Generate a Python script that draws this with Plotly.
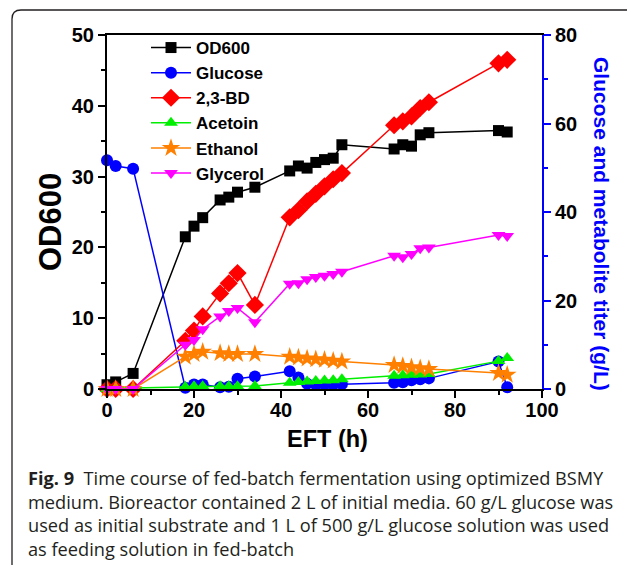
import plotly.graph_objects as go

# ---------------- data ----------------
time_h = [0, 2, 6, 18, 20, 22, 26, 28, 30, 34, 42, 44, 46, 48, 50, 52, 54, 66, 68, 70, 72, 74, 90, 92]
od600 = [0.6, 1.0, 2.2, 21.5, 23.0, 24.2, 26.7, 27.1, 27.8, 28.5, 30.8, 31.5, 31.2, 32.0, 32.4, 32.6, 34.5, 33.9, 34.5, 34.3, 35.9, 36.2, 36.5, 36.3]
glucose = [51.7, 50.4, 49.8, 0.3, 1.0, 1.0, 0.4, 0.5, 2.3, 2.8, 4.0, 2.6, 1.2, 1.0, 1.0, 1.0, 1.1, 1.4, 1.5, 2.0, 2.2, 2.4, 6.2, 0.4]
bd23 = [0, 0, 0, 10.9, 13.2, 16.4, 21.6, 23.9, 26.2, 19.0, 38.8, 40.4, 42.4, 44.1, 45.8, 47.4, 48.8, 59.6, 60.5, 61.6, 63.5, 64.8, 73.6, 74.4]
acetoin = [0, 0.2, 0.2, 0.5, 0.6, 0.6, 0.6, 0.6, 0.6, 0.7, 1.4, 1.6, 1.7, 1.8, 1.9, 2.0, 2.2, 3.0, 3.1, 3.2, 3.3, 3.4, 6.3, 7.0]
ethanol = [0, 0, 0, 7.3, 7.9, 8.4, 8.1, 7.9, 7.9, 7.9, 7.3, 7.1, 6.9, 6.7, 6.6, 6.4, 6.2, 5.4, 5.2, 4.9, 4.7, 4.5, 3.6, 3.2]
glycerol = [0, 0, 0, 10.0, 11.1, 13.5, 16.4, 17.6, 18.3, 15.1, 23.8, 23.9, 24.8, 25.3, 25.6, 26.0, 26.5, 30.1, 29.8, 30.5, 31.8, 32.0, 34.8, 34.6]

x_ticks = [0, 20, 40, 60, 80, 100]
y1_ticks = [0, 10, 20, 30, 40, 50]
y2_ticks = [0, 20, 40, 60, 80]

caption_lines = [
    "<b>Fig. 9</b>  Time course of fed-batch fermentation using optimized BSMY",
    "medium. Bioreactor contained 2 L of initial media. 60 g/L glucose was",
    "used as initial substrate and 1 L of 500 g/L glucose solution was used",
    "as feeding solution in fed-batch",
]

# ---------------- layout geometry ----------------
W, H = 627, 565
L, R, T, B = 107, 85, 35, 176
PW, PH = W - L - R, H - T - B


def px(x):
    return (x - L) / PW


def py(y):
    return (H - B - y) / PH


series = [
    ("OD600", od600, "#000000", "square", 11, "y"),
    ("Glucose", glucose, "#0000ff", "circle", 12, "y2"),
    ("2,3-BD", bd23, "#ff0000", "diamond", 14, "y2"),
    ("Acetoin", acetoin, "#00ee00", "triangle-up", 12, "y2"),
    ("Ethanol", ethanol, "#ff8000", "star", 14, "y2"),
    ("Glycerol", glycerol, "#ff00ff", "triangle-down", 12, "y2"),
]

fig = go.Figure()
for name, vals, col, sym, size, yax in series:
    fig.add_trace(go.Scatter(
        x=time_h, y=vals, name=name, yaxis=yax, mode="lines+markers",
        line=dict(color=col, width=1.5),
        marker=dict(symbol=sym, size=size, color=col, line=dict(width=0)),
        cliponaxis=False,
    ))

FONT = "Liberation Sans, Arial"
tickfont = dict(family=FONT, size=20, color="black", weight="bold")

fig.update_layout(
    width=W, height=H,
    margin=dict(l=L, r=R, t=T, b=B, autoexpand=False),
    paper_bgcolor="white", plot_bgcolor="white",
    showlegend=True,
    legend=dict(
        x=px(146), y=py(30), xanchor="left", yanchor="top",
        bgcolor="rgba(0,0,0,0)",
        font=dict(family=FONT, size=17, color="black", weight="bold"),
        tracegroupgap=0, itemwidth=40,
    ),
    xaxis=dict(
        range=[0, 100], tickvals=x_ticks, ticks="outside", ticklen=7, tickwidth=2,
        tickcolor="black", showline=True, linecolor="black", linewidth=2, mirror=True,
        showgrid=False, zeroline=False, tickfont=tickfont, ticklabelstandoff=-5,
        minor=dict(ticks="outside", ticklen=4, tickwidth=2, dtick=10, tickcolor="black", showgrid=False),
    ),
    yaxis=dict(
        range=[0, 50], tickvals=y1_ticks, ticks="outside", ticklen=7, tickwidth=2,
        tickcolor="black", showline=True, linecolor="black", linewidth=2,
        showgrid=False, zeroline=False, tickfont=tickfont,
        minor=dict(ticks="outside", ticklen=4, tickwidth=2, dtick=5, tickcolor="black", showgrid=False),
    ),
    yaxis2=dict(
        range=[0, 80], tickvals=y2_ticks, overlaying="y", side="right",
        ticks="outside", ticklen=7, tickwidth=2, tickcolor="#0000ff",
        showline=True, linecolor="#0000ff", linewidth=2,
        showgrid=False, zeroline=False, tickfont=tickfont,
        minor=dict(ticks="outside", ticklen=4, tickwidth=2, dtick=10, tickcolor="#0000ff", showgrid=False),
    ),
)

ann = []
ann.append(dict(text="OD600", x=px(50), y=py(222), xref="paper", yref="paper",
                xanchor="center", yanchor="middle", showarrow=False, textangle=-90,
                font=dict(family=FONT, size=31, color="black", weight="bold")))
ann.append(dict(text="EFT (h)", x=px(327), y=py(439), xref="paper", yref="paper",
                xanchor="center", yanchor="middle", showarrow=False,
                font=dict(family=FONT, size=23.5, color="black", weight="bold")))
ann.append(dict(text="Glucose and metabolite titer (g/L)", x=px(602), y=py(224), xref="paper", yref="paper",
                xanchor="center", yanchor="middle", showarrow=False, textangle=90,
                font=dict(family=FONT, size=21, color="#0000ff", weight="bold")))
ann.append(dict(text="<br>".join(caption_lines), x=px(27), y=py(465), xref="paper", yref="paper",
                xanchor="left", yanchor="top", showarrow=False, align="left", borderpad=0,
                font=dict(family="Open Sans", size=18.2, color="#231f20")))
fig.update_layout(annotations=ann)

# rounded frame (top-left corner) around figure + caption
x0, ytop, rad = px(12), py(10), 9
path = (f"M {x0},{py(600)} L {x0},{py(10 + rad)} "
        f"Q {x0},{ytop} {px(12 + rad)},{ytop} L {px(640)},{ytop}")
fig.add_shape(type="path", path=path, xref="paper", yref="paper",
              line=dict(color="#231f20", width=1.3), layer="above")

fig.write_html("out.html", config={"displayModeBar": False},
               post_script="document.body.style.margin='0';document.body.style.padding='0';")
